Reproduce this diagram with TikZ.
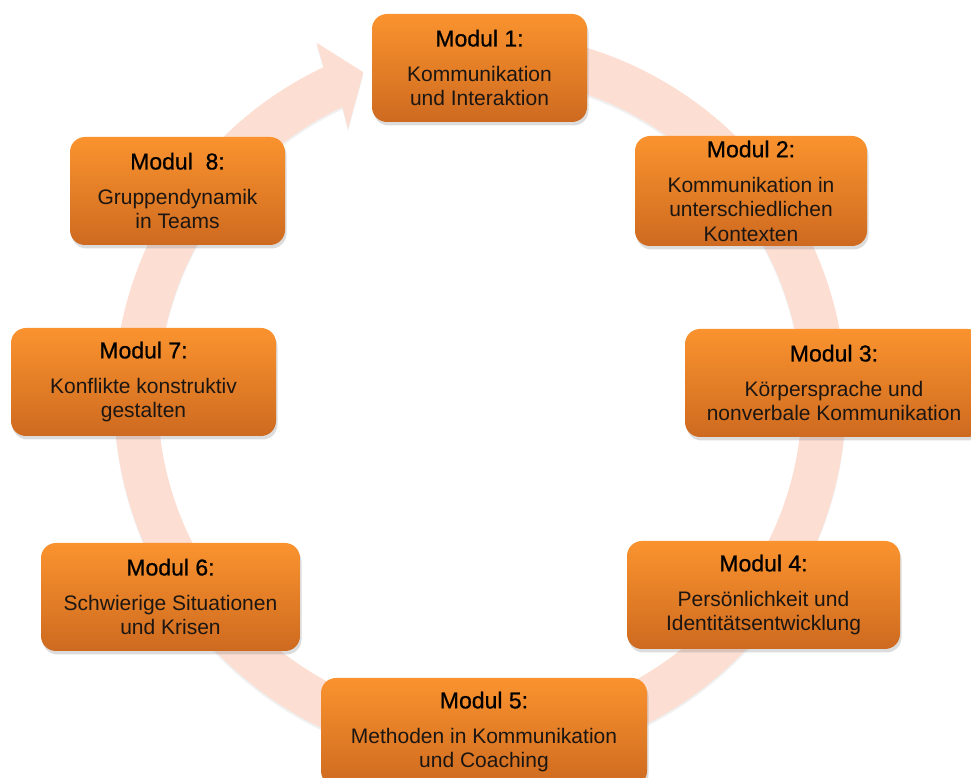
\documentclass[tikz,border=0pt]{standalone}
\usepackage{fontspec}
\setmainfont{Liberation Sans}
\newfontfamily\modtitlefont[FakeBold=0.7]{Liberation Sans}
\usetikzlibrary{calc,shadows}
\definecolor{ringc}{RGB}{252,222,211}
\definecolor{otop}{RGB}{250,147,46}
\definecolor{obot}{RGB}{206,106,32}
\definecolor{txt}{RGB}{28,22,18}
\tikzset{
  modbox/.style={rounded corners=15pt, top color=otop, bottom color=obot, draw=none,
    minimum height=108pt, inner sep=0pt, align=center, text=txt,
    font=\fontsize{21}{24.5}\selectfont,
    drop shadow={opacity=0.28, shadow xshift=1.5pt, shadow yshift=-3.5pt}},
  ringstyle/.style={fill=ringc, draw=none,
    drop shadow={opacity=0.12, shadow xshift=0pt, shadow yshift=-2.5pt}}
}
\newcommand{\modtitle}[1]{{\modtitlefont\fontsize{23}{24.5}\selectfont\color{black}#1}\\[10.5pt]}
\begin{document}
\begin{tikzpicture}[x=1pt,y=1pt]
\useasboundingbox (0,0) rectangle (971,778);
\clip (0,0) rectangle (971,778);
\coordinate (C) at (480,380);
% ring with arrow head
\fill[ringstyle] ($(C)+(95:366pt)$) arc[start angle=95, end angle=-244.7, radius=366pt]
  -- ($(C)+(114.7:391pt)$) -- ($(C)+(109.7:346pt)$) -- ($(C)+(116.1:300pt)$)
  -- ($(C)+(115.3:322pt)$) arc[start angle=-244.7, end angle=95, radius=322pt] -- cycle;
% modules
\node[modbox, minimum width=215pt] (m1) at (479.5,710) {\modtitle{Modul 1:}Kommunikation\\und Interaktion};
\node[modbox, minimum width=232pt, minimum height=110pt] (m2) at (751,587) {\modtitle{Modul 2:}Kommunikation in\\unterschiedlichen\\Kontexten};
\node[modbox, minimum width=298pt] (m3) at (834,395) {\modtitle{Modul 3:}Körpersprache und\\nonverbale Kommunikation};
\node[modbox, minimum width=273pt] (m4) at (763.5,183) {\modtitle{Modul 4:}Persönlichkeit und\\Identitätsentwicklung};
\node[modbox, minimum width=326pt] (m5) at (484,46) {\modtitle{Modul 5:}Methoden in Kommunikation\\und Coaching};
\node[modbox, minimum width=259pt] (m6) at (170.5,181) {\modtitle{Modul 6:}Schwierige Situationen\\und Krisen};
\node[modbox, minimum width=265pt] (m7) at (143.5,396) {\modtitle{Modul 7:}Konflikte konstruktiv\\gestalten};
\node[modbox, minimum width=215pt] (m8) at (177.5,587) {\modtitle{Modul\ \ 8:}Gruppendynamik\\in Teams};
\end{tikzpicture}
\end{document}
